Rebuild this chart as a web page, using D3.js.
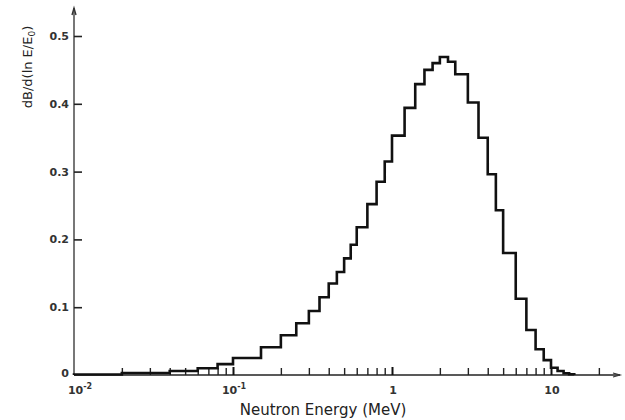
<!DOCTYPE html>
<html><head><meta charset="utf-8">
<script src="https://cdn.jsdelivr.net/npm/d3@7"></script>
<style>body{margin:0;background:#fff}svg{display:block}</style>
</head><body><svg id="c" width="625" height="420"></svg>
<script>
// Histogram bin edges (MeV) and heights dB/d(ln E/E0)
const binEdges = [0.01,0.02,0.04,0.06,0.08,0.1,0.15,0.2,0.25,0.3,0.35,0.4,0.45,0.5,0.55,0.6,0.7,0.8,0.9,1.0,1.2,1.4,1.6,1.8,2.0,2.25,2.5,3.0,3.5,4.0,4.5,5.0,6.0,7.0,8.0,9.0,10,11,12,13,14];
const binValues = [0.0008,0.003,0.006,0.010,0.016,0.025,0.041,0.0586,0.0763,0.0944,0.1146,0.135,0.152,0.172,0.192,0.218,0.252,0.285,0.315,0.353,0.394,0.429,0.450,0.460,0.469,0.462,0.4435,0.402,0.350,0.296,0.243,0.180,0.1125,0.0664,0.038,0.022,0.0108,0.006,0.0025,0.001];
const yTicks = [0,0.1,0.2,0.3,0.4,0.5];
const xMajorTicks = [0.01,0.1,1,10];
const xMajorLabels = [["10","-2"],["10","-1"],["1",""],["10",""]];
const xMinorTicks = [0.02,0.03,0.04,0.05,0.06,0.07,0.08,0.09,0.2,0.3,0.4,0.5,0.6,0.7,0.8,0.9,2,3,4,5,6,7,8,9,20];
const xTitle = "Neutron Energy (MeV)";
const yTitle = ["dB/d(ln E/E","0",")"];

const svg = d3.select("#c");
const x = d3.scaleLog().domain([0.01,10]).range([74,551]);
const y = d3.scaleLinear().domain([0,0.5]).range([375,36]);
const font = "'DejaVu Sans', Verdana, sans-serif";

// axes lines
svg.append("line").attr("x1",x(0.01)).attr("x2",620).attr("y1",y(0)).attr("y2",y(0))
  .attr("stroke","#222").attr("stroke-width",1.6);
svg.append("line").attr("x1",x(0.01)).attr("x2",x(0.01)).attr("y1",y(0)).attr("y2",8)
  .attr("stroke","#555").attr("stroke-width",1.6);
// small arrowheads
svg.append("path").attr("d",`M${x(0.01)-2},15 L${x(0.01)},8 L${x(0.01)+2},15`).attr("fill","none").attr("stroke","#333").attr("stroke-width",1.4);
svg.append("path").attr("d",`M613,${y(0)-2} L620,${y(0)} L613,${y(0)+2}`).attr("fill","none").attr("stroke","#333").attr("stroke-width",1.2);

// x minor ticks
const gxMinor = svg.append("g").attr("transform",`translate(0,${y(0)})`)
  .call(d3.axisBottom(x).tickValues(xMinorTicks).tickSize(-7).tickSizeOuter(0).tickFormat(""));
gxMinor.select(".domain").remove();
gxMinor.selectAll(".tick line").attr("stroke","#222").attr("stroke-width",1.4);
// x major ticks
const gxMajor = svg.append("g").attr("transform",`translate(0,${y(0)})`)
  .call(d3.axisBottom(x).tickValues(xMajorTicks.slice(1)).tickSize(-8).tickSizeOuter(0).tickFormat(""));
gxMajor.select(".domain").remove();
gxMajor.selectAll(".tick line").attr("stroke","#111").attr("stroke-width",2);

// x labels
const xl = svg.append("g").selectAll("text").data(xMajorTicks).join("text")
  .attr("x",(d,i)=> x(d) + (i===0?6:1)).attr("y",394)
  .attr("text-anchor","middle").attr("font-family",font).attr("font-size",11)
  .attr("font-weight","bold").attr("fill","#333");
xl.each(function(d,i){
  const t = d3.select(this);
  t.append("tspan").text(xMajorLabels[i][0]);
  if (xMajorLabels[i][1]) t.append("tspan").attr("dy",-5).attr("font-size",8).text(xMajorLabels[i][1]);
});

// y axis ticks and labels
const gy = svg.append("g").attr("transform",`translate(${x(0.01)},0)`)
  .call(d3.axisLeft(y).tickValues(yTicks).tickSize(-8).tickSizeOuter(0).tickPadding(5)
    .tickFormat(d=> d===0 ? "0" : d3.format(".1f")(d)));
gy.select(".domain").remove();
gy.selectAll(".tick line").attr("stroke","#222").attr("stroke-width",1.6)
  .attr("display",(d)=> d===0 ? "none" : null);
gy.selectAll(".tick text").attr("font-family",font).attr("font-size",11)
  .attr("font-weight","bold").attr("fill","#333")
  .attr("dy",(d)=> d===0 ? "0.1em" : "0.32em");

// histogram step path
let p = `M${x(binEdges[0])},${y(0)}`;
binValues.forEach((v,i)=>{ p += ` V${y(v)} H${x(binEdges[i+1])}`; });
p += ` V${y(0)}`;
svg.append("path").attr("d",p).attr("fill","none").attr("stroke","#111")
  .attr("stroke-width",2.6).attr("stroke-linejoin","miter");

// titles
svg.append("text").attr("x",323).attr("y",415).attr("text-anchor","middle")
  .attr("font-family",font).attr("font-size",15).attr("fill","#222").text(xTitle);
const yt = svg.append("text").attr("transform","translate(32,67) rotate(-90)")
  .attr("text-anchor","middle").attr("font-family",font).attr("font-size",13).attr("fill","#222");
yt.append("tspan").text(yTitle[0]);
yt.append("tspan").attr("dy",3).attr("font-size",9).text(yTitle[1]);
yt.append("tspan").attr("dy",-3).text(yTitle[2]);
</script></body></html>
